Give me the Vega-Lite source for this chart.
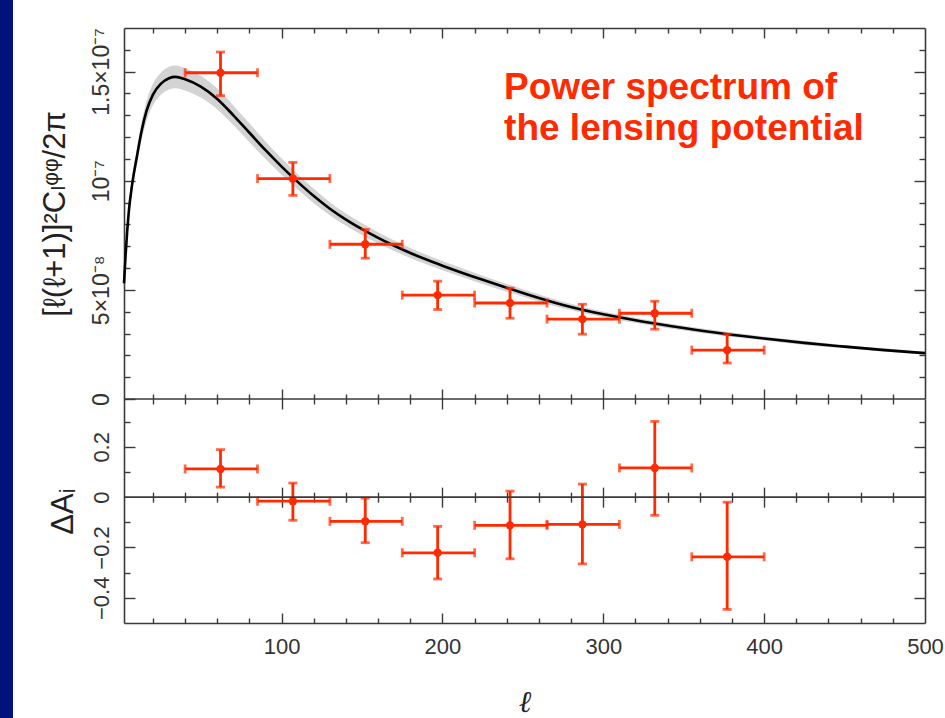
{
  "$schema": "https://vega.github.io/schema/vega-lite/v6.json",
  "width": 801,
  "height": 595,
  "autosize": {"type": "none"},
  "padding": {"left": 124, "top": 28, "right": 20, "bottom": 95},
  "background": "#00137a",
  "view": {"fill": "white", "stroke": "white", "strokeWidth": 222},
  "config": {
    "axis": {
      "grid": false, "domain": false, "ticks": false, "labels": false,
      "tickColor": "#3a3a3a", "tickWidth": 1.4,
      "domainColor": "#3a3a3a", "domainWidth": 1.6,
      "labelFont": "Liberation Sans", "labelFontSize": 22, "labelColor": "#333333",
      "labelOverlap": false, "labelFlush": false,
      "titleFont": "Liberation Sans, DejaVu Sans", "titleFontWeight": "normal", "titleColor": "#222222"
    }
  },
  "datasets": {
    "curve": [
      {"l": 2, "v": 5.3e-8, "lo": 5.18e-8, "hi": 5.42e-8},
      {"l": 3, "v": 6.6e-8, "lo": 6.44e-8, "hi": 6.76e-8},
      {"l": 4, "v": 7.7e-8, "lo": 7.5e-8, "hi": 7.9e-8},
      {"l": 5, "v": 8.6e-8, "lo": 8.36e-8, "hi": 8.84e-8},
      {"l": 7, "v": 9.8e-8, "lo": 9.5e-8, "hi": 1.01e-7},
      {"l": 10, "v": 1.11e-7, "lo": 1.074e-7, "hi": 1.146e-7},
      {"l": 13, "v": 1.23e-7, "lo": 1.188e-7, "hi": 1.272e-7},
      {"l": 16, "v": 1.32e-7, "lo": 1.274e-7, "hi": 1.366e-7},
      {"l": 20, "v": 1.395e-7, "lo": 1.346e-7, "hi": 1.444e-7},
      {"l": 25, "v": 1.445e-7, "lo": 1.394e-7, "hi": 1.496e-7},
      {"l": 30, "v": 1.47e-7, "lo": 1.418e-7, "hi": 1.522e-7},
      {"l": 34, "v": 1.476e-7, "lo": 1.424e-7, "hi": 1.528e-7},
      {"l": 40, "v": 1.465e-7, "lo": 1.414e-7, "hi": 1.516e-7},
      {"l": 50, "v": 1.43e-7, "lo": 1.38e-7, "hi": 1.48e-7},
      {"l": 60, "v": 1.375e-7, "lo": 1.327e-7, "hi": 1.423e-7},
      {"l": 70, "v": 1.3e-7, "lo": 1.255e-7, "hi": 1.345e-7},
      {"l": 80, "v": 1.22e-7, "lo": 1.177e-7, "hi": 1.263e-7},
      {"l": 90, "v": 1.14e-7, "lo": 1.1e-7, "hi": 1.18e-7},
      {"l": 100, "v": 1.065e-7, "lo": 1.028e-7, "hi": 1.102e-7},
      {"l": 110, "v": 9.95e-8, "lo": 9.6e-8, "hi": 1.03e-7},
      {"l": 120, "v": 9.3e-8, "lo": 8.97e-8, "hi": 9.63e-8},
      {"l": 130, "v": 8.72e-8, "lo": 8.42e-8, "hi": 9.02e-8},
      {"l": 140, "v": 8.22e-8, "lo": 7.94e-8, "hi": 8.5e-8},
      {"l": 150, "v": 7.78e-8, "lo": 7.51e-8, "hi": 8.05e-8},
      {"l": 160, "v": 7.38e-8, "lo": 7.12e-8, "hi": 7.64e-8},
      {"l": 170, "v": 7.02e-8, "lo": 6.78e-8, "hi": 7.26e-8},
      {"l": 180, "v": 6.69e-8, "lo": 6.46e-8, "hi": 6.92e-8},
      {"l": 190, "v": 6.39e-8, "lo": 6.17e-8, "hi": 6.61e-8},
      {"l": 200, "v": 6.11e-8, "lo": 5.9e-8, "hi": 6.32e-8},
      {"l": 225, "v": 5.46e-8, "lo": 5.27e-8, "hi": 5.65e-8},
      {"l": 250, "v": 4.86e-8, "lo": 4.69e-8, "hi": 5.03e-8},
      {"l": 275, "v": 4.31e-8, "lo": 4.16e-8, "hi": 4.46e-8},
      {"l": 300, "v": 3.88e-8, "lo": 3.75e-8, "hi": 4.01e-8},
      {"l": 325, "v": 3.54e-8, "lo": 3.42e-8, "hi": 3.66e-8},
      {"l": 350, "v": 3.25e-8, "lo": 3.14e-8, "hi": 3.36e-8},
      {"l": 375, "v": 2.99e-8, "lo": 2.89e-8, "hi": 3.09e-8},
      {"l": 400, "v": 2.77e-8, "lo": 2.68e-8, "hi": 2.86e-8},
      {"l": 425, "v": 2.57e-8, "lo": 2.48e-8, "hi": 2.66e-8},
      {"l": 450, "v": 2.4e-8, "lo": 2.32e-8, "hi": 2.48e-8},
      {"l": 475, "v": 2.24e-8, "lo": 2.16e-8, "hi": 2.32e-8},
      {"l": 500, "v": 2.1e-8, "lo": 2.03e-8, "hi": 2.17e-8}
    ],
    "pts": [
      {"l": 62, "lmin": 40, "lmax": 85, "v": 1.495e-7, "lo": 1.39e-7, "hi": 1.59e-7},
      {"l": 107, "lmin": 85, "lmax": 130, "v": 1.01e-7, "lo": 9.33e-8, "hi": 1.084e-7},
      {"l": 152, "lmin": 130, "lmax": 175, "v": 7.09e-8, "lo": 6.45e-8, "hi": 7.77e-8},
      {"l": 197, "lmin": 175, "lmax": 220, "v": 4.76e-8, "lo": 4.1e-8, "hi": 5.4e-8},
      {"l": 242, "lmin": 220, "lmax": 265, "v": 4.4e-8, "lo": 3.7e-8, "hi": 5.08e-8},
      {"l": 287, "lmin": 265, "lmax": 310, "v": 3.66e-8, "lo": 2.97e-8, "hi": 4.34e-8},
      {"l": 332, "lmin": 310, "lmax": 355, "v": 3.93e-8, "lo": 3.2e-8, "hi": 4.48e-8},
      {"l": 377, "lmin": 355, "lmax": 400, "v": 2.24e-8, "lo": 1.65e-8, "hi": 2.97e-8}
    ],
    "dev": [
      {"l": 62, "lmin": 40, "lmax": 85, "d": 0.112, "dlo": 0.04, "dhi": 0.189},
      {"l": 107, "lmin": 85, "lmax": 130, "d": -0.016, "dlo": -0.092, "dhi": 0.056},
      {"l": 152, "lmin": 130, "lmax": 175, "d": -0.096, "dlo": -0.181, "dhi": -0.004},
      {"l": 197, "lmin": 175, "lmax": 220, "d": -0.221, "dlo": -0.325, "dhi": -0.116},
      {"l": 242, "lmin": 220, "lmax": 265, "d": -0.112, "dlo": -0.245, "dhi": 0.024},
      {"l": 287, "lmin": 265, "lmax": 310, "d": -0.108, "dlo": -0.265, "dhi": 0.052},
      {"l": 332, "lmin": 310, "lmax": 355, "d": 0.116, "dlo": -0.072, "dhi": 0.301},
      {"l": 377, "lmin": 355, "lmax": 400, "d": -0.237, "dlo": -0.446, "dhi": -0.02}
    ]
  },
  "resolve": {"scale": {"y": "independent"}, "axis": {"x": "independent", "y": "independent"}},
  "layer": [
    {
      "resolve": {"axis": {"x": "independent", "y": "independent"}},
      "layer": [
        {
          "data": {"name": "curve"},
          "mark": {"type": "area", "color": "#d3d3d3", "interpolate": "monotone"},
          "encoding": {
            "x": {"field": "l", "type": "quantitative", "scale": {"domain": [2, 500], "nice": false, "zero": false},
              "axis": {"orient": "bottom", "domain": true, "labels": true, "values": [100, 200, 300, 400, 500], "labelPadding": 13, "title": "ℓ", "titleFont": "Liberation Serif", "titleFontStyle": "italic", "titleFontSize": 30, "titlePadding": 30}},
            "y": {"field": "lo", "type": "quantitative", "scale": {"domain": [0, 1.7e-7], "range": [371, 0], "nice": false, "zero": false},
              "axis": {"orient": "left", "domain": true, "labels": true, "values": [0, 5e-8, 1e-7, 1.5e-7], "labelAngle": 270, "labelAlign": "center", "labelBaseline": "alphabetic", "labelPadding": 16, "labelFontSize": 23,
                "labelExpr": "datum.value == 0 ? '0' : datum.value < 7e-8 ? '5×10⁻⁸' : datum.value < 1.2e-7 ? '10⁻⁷' : '1.5×10⁻⁷'",
                "title": "[ℓ(ℓ+1)]²Cₗᵠᵠ/2π", "titleFontSize": 31, "titlePadding": 19}},
            "y2": {"field": "hi"}
          }
        },
        {
          "data": {"name": "curve"},
          "mark": {"type": "line", "color": "#000000", "strokeWidth": 2.6, "interpolate": "monotone"},
          "encoding": {
            "x": {"field": "l", "type": "quantitative", "scale": {"domain": [2, 500], "nice": false, "zero": false},
              "axis": {"orient": "top", "domain": true, "title": null}},
            "y": {"field": "v", "type": "quantitative", "scale": {"domain": [0, 1.7e-7], "range": [371, 0], "nice": false, "zero": false},
              "axis": {"orient": "left", "ticks": true, "tickSize": 11, "offset": -11, "values": [0, 5e-8, 1e-7, 1.5e-7], "title": null}}
          }
        },
        {
          "data": {"name": "pts"},
          "mark": {"type": "rule", "color": "#ff2a00", "strokeWidth": 2.8},
          "encoding": {
            "x": {"field": "l", "type": "quantitative", "scale": {"domain": [2, 500], "nice": false, "zero": false},
              "axis": {"orient": "top", "ticks": true, "tickSize": 10, "offset": -10, "values": [100, 200, 300, 400], "title": null}},
            "y": {"field": "lo", "type": "quantitative", "scale": {"domain": [0, 1.7e-7], "range": [371, 0], "nice": false, "zero": false},
              "axis": {"orient": "left", "ticks": true, "tickSize": 6, "offset": -6, "values": [1e-8, 2e-8, 3e-8, 4e-8, 6e-8, 7e-8, 8e-8, 9e-8, 1.1e-7, 1.2e-7, 1.3e-7, 1.4e-7, 1.6e-7], "title": null}},
            "y2": {"field": "hi"}
          }
        },
        {
          "data": {"name": "pts"},
          "mark": {"type": "rule", "color": "#ff2a00", "strokeWidth": 2.8},
          "encoding": {
            "x": {"field": "lmin", "type": "quantitative", "scale": {"domain": [2, 500], "nice": false, "zero": false},
              "axis": {"orient": "top", "ticks": true, "tickSize": 5, "offset": -5, "values": [20, 40, 60, 80, 120, 140, 160, 180, 220, 240, 260, 280, 320, 340, 360, 380, 420, 440, 460, 480], "title": null}},
            "x2": {"field": "lmax"},
            "y": {"field": "v", "type": "quantitative", "scale": {"domain": [0, 1.7e-7], "range": [371, 0], "nice": false, "zero": false},
              "axis": {"orient": "right", "domain": true, "title": null}}
          }
        },
        {
          "data": {"name": "pts"},
          "mark": {"type": "tick", "orient": "horizontal", "color": "#ff2a00", "size": 9, "thickness": 2.8},
          "encoding": {
            "x": {"field": "l", "type": "quantitative", "scale": {"domain": [2, 500], "nice": false, "zero": false},
              "axis": {"orient": "bottom", "ticks": true, "tickSize": 20, "offset": -234, "values": [100, 200, 300, 400], "title": null}},
            "y": {"field": "lo", "type": "quantitative", "scale": {"domain": [0, 1.7e-7], "range": [371, 0], "nice": false, "zero": false},
              "axis": {"orient": "right", "ticks": true, "tickSize": 11, "offset": -11, "values": [5e-8, 1e-7, 1.5e-7], "title": null}}
          }
        },
        {
          "data": {"name": "pts"},
          "mark": {"type": "tick", "orient": "horizontal", "color": "#ff2a00", "size": 9, "thickness": 2.8},
          "encoding": {
            "x": {"field": "l", "type": "quantitative", "scale": {"domain": [2, 500], "nice": false, "zero": false},
              "axis": {"orient": "bottom", "ticks": true, "tickSize": 10, "offset": -229, "values": [20, 40, 60, 80, 120, 140, 160, 180, 220, 240, 260, 280, 320, 340, 360, 380, 420, 440, 460, 480], "title": null}},
            "y": {"field": "hi", "type": "quantitative", "scale": {"domain": [0, 1.7e-7], "range": [371, 0], "nice": false, "zero": false},
              "axis": {"orient": "right", "ticks": true, "tickSize": 6, "offset": -6, "values": [1e-8, 2e-8, 3e-8, 4e-8, 6e-8, 7e-8, 8e-8, 9e-8, 1.1e-7, 1.2e-7, 1.3e-7, 1.4e-7, 1.6e-7], "title": null}}
          }
        },
        {
          "data": {"name": "pts"},
          "mark": {"type": "tick", "orient": "vertical", "color": "#ff2a00", "size": 9, "thickness": 2.8},
          "encoding": {
            "x": {"field": "lmin", "type": "quantitative", "scale": {"domain": [2, 500], "nice": false, "zero": false}, "axis": null},
            "y": {"field": "v", "type": "quantitative", "scale": {"domain": [0, 1.7e-7], "range": [371, 0], "nice": false, "zero": false}, "axis": null}
          }
        },
        {
          "data": {"name": "pts"},
          "mark": {"type": "tick", "orient": "vertical", "color": "#ff2a00", "size": 9, "thickness": 2.8},
          "encoding": {
            "x": {"field": "lmax", "type": "quantitative", "scale": {"domain": [2, 500], "nice": false, "zero": false}, "axis": null},
            "y": {"field": "v", "type": "quantitative", "scale": {"domain": [0, 1.7e-7], "range": [371, 0], "nice": false, "zero": false}, "axis": null}
          }
        },
        {
          "data": {"name": "pts"},
          "mark": {"type": "point", "filled": true, "color": "#ff2a00", "size": 70, "opacity": 1},
          "encoding": {
            "x": {"field": "l", "type": "quantitative", "scale": {"domain": [2, 500], "nice": false, "zero": false}, "axis": null},
            "y": {"field": "v", "type": "quantitative", "scale": {"domain": [0, 1.7e-7], "range": [371, 0], "nice": false, "zero": false}, "axis": null}
          }
        },
        {
          "data": {"values": [{"label": "Power spectrum of the lensing potential"}]},
          "mark": {"type": "text", "text": ["Power spectrum of", "the lensing potential"], "align": "left", "baseline": "alphabetic", "font": "Liberation Sans", "fontWeight": "bold", "fontSize": 37, "lineHeight": 41, "color": "#ff2a00"},
          "encoding": {
            "x": {"datum": 238.3, "type": "quantitative", "scale": {"domain": [2, 500], "nice": false, "zero": false}, "axis": null},
            "y": {"datum": 1.3747e-7, "type": "quantitative", "scale": {"domain": [0, 1.7e-7], "range": [371, 0], "nice": false, "zero": false}, "axis": null}
          }
        },
        {
          "data": {"values": [{"line": "panel boundary"}]},
          "mark": {"type": "rule", "color": "#3a3a3a", "strokeWidth": 1.6},
          "encoding": {
            "y": {"datum": 0, "type": "quantitative", "scale": {"domain": [0, 1.7e-7], "range": [371, 0], "nice": false, "zero": false}, "axis": null}
          }
        }
      ]
    },
    {
      "resolve": {"axis": {"x": "independent", "y": "independent"}},
      "layer": [
        {
          "data": {"name": "dev"},
          "mark": {"type": "rule", "color": "#ff2a00", "strokeWidth": 2.8},
          "encoding": {
            "x": {"field": "l", "type": "quantitative", "scale": {"domain": [2, 500], "nice": false, "zero": false},
              "axis": {"orient": "bottom", "ticks": true, "tickSize": 10, "offset": -10, "values": [100, 200, 300, 400], "title": null}},
            "y": {"field": "dlo", "type": "quantitative", "scale": {"domain": [-0.5, 0.39], "range": [595, 371], "nice": false, "zero": false},
              "axis": {"orient": "left", "domain": true, "labels": true, "values": [-0.4, -0.2, 0, 0.2], "labelAngle": 270, "labelAlign": "center", "labelBaseline": "alphabetic", "labelPadding": 16,
                "labelExpr": "datum.value == 0 ? '0' : format(datum.value, '.1f')",
                "title": "ΔAᵢ", "titleFontSize": 31, "titlePadding": 11}},
            "y2": {"field": "dhi"}
          }
        },
        {
          "data": {"name": "dev"},
          "mark": {"type": "rule", "color": "#ff2a00", "strokeWidth": 2.8},
          "encoding": {
            "x": {"field": "lmin", "type": "quantitative", "scale": {"domain": [2, 500], "nice": false, "zero": false},
              "axis": {"orient": "bottom", "ticks": true, "tickSize": 5, "offset": -5, "values": [20, 40, 60, 80, 120, 140, 160, 180, 220, 240, 260, 280, 320, 340, 360, 380, 420, 440, 460, 480], "title": null}},
            "x2": {"field": "lmax"},
            "y": {"field": "d", "type": "quantitative", "scale": {"domain": [-0.5, 0.39], "range": [595, 371], "nice": false, "zero": false},
              "axis": {"orient": "left", "ticks": true, "tickSize": 11, "offset": -11, "values": [-0.4, -0.2, 0.2], "title": null}}
          }
        },
        {
          "data": {"name": "dev"},
          "mark": {"type": "tick", "orient": "horizontal", "color": "#ff2a00", "size": 9, "thickness": 2.8},
          "encoding": {
            "x": {"field": "l", "type": "quantitative", "scale": {"domain": [2, 500], "nice": false, "zero": false},
              "axis": {"orient": "bottom", "ticks": true, "tickSize": 20, "offset": -135.84, "values": [100, 200, 300, 400], "title": null}},
            "y": {"field": "dlo", "type": "quantitative", "scale": {"domain": [-0.5, 0.39], "range": [595, 371], "nice": false, "zero": false},
              "axis": {"orient": "left", "ticks": true, "tickSize": 6, "offset": -6, "values": [-0.3, -0.1, 0.1, 0.3], "title": null}}
          }
        },
        {
          "data": {"name": "dev"},
          "mark": {"type": "tick", "orient": "horizontal", "color": "#ff2a00", "size": 9, "thickness": 2.8},
          "encoding": {
            "x": {"field": "l", "type": "quantitative", "scale": {"domain": [2, 500], "nice": false, "zero": false},
              "axis": {"orient": "bottom", "ticks": true, "tickSize": 10, "offset": -130.84, "values": [20, 40, 60, 80, 120, 140, 160, 180, 220, 240, 260, 280, 320, 340, 360, 380, 420, 440, 460, 480], "title": null}},
            "y": {"field": "dhi", "type": "quantitative", "scale": {"domain": [-0.5, 0.39], "range": [595, 371], "nice": false, "zero": false},
              "axis": {"orient": "right", "domain": true, "title": null}}
          }
        },
        {
          "data": {"name": "dev"},
          "mark": {"type": "tick", "orient": "vertical", "color": "#ff2a00", "size": 9, "thickness": 2.8},
          "encoding": {
            "x": {"field": "lmin", "type": "quantitative", "scale": {"domain": [2, 500], "nice": false, "zero": false}, "axis": null},
            "y": {"field": "d", "type": "quantitative", "scale": {"domain": [-0.5, 0.39], "range": [595, 371], "nice": false, "zero": false},
              "axis": {"orient": "right", "ticks": true, "tickSize": 11, "offset": -11, "values": [-0.4, -0.2, 0.2], "title": null}}
          }
        },
        {
          "data": {"name": "dev"},
          "mark": {"type": "tick", "orient": "vertical", "color": "#ff2a00", "size": 9, "thickness": 2.8},
          "encoding": {
            "x": {"field": "lmax", "type": "quantitative", "scale": {"domain": [2, 500], "nice": false, "zero": false}, "axis": null},
            "y": {"field": "d", "type": "quantitative", "scale": {"domain": [-0.5, 0.39], "range": [595, 371], "nice": false, "zero": false},
              "axis": {"orient": "right", "ticks": true, "tickSize": 6, "offset": -6, "values": [-0.3, -0.1, 0.1, 0.3], "title": null}}
          }
        },
        {
          "data": {"name": "dev"},
          "mark": {"type": "point", "filled": true, "color": "#ff2a00", "size": 70, "opacity": 1},
          "encoding": {
            "x": {"field": "l", "type": "quantitative", "scale": {"domain": [2, 500], "nice": false, "zero": false}, "axis": null},
            "y": {"field": "d", "type": "quantitative", "scale": {"domain": [-0.5, 0.39], "range": [595, 371], "nice": false, "zero": false}, "axis": null}
          }
        },
        {
          "data": {"values": [{"line": "zero"}]},
          "mark": {"type": "rule", "color": "#3a3a3a", "strokeWidth": 1.6},
          "encoding": {
            "y": {"datum": 0, "type": "quantitative", "scale": {"domain": [-0.5, 0.39], "range": [595, 371], "nice": false, "zero": false}, "axis": null}
          }
        }
      ]
    }
  ]
}
